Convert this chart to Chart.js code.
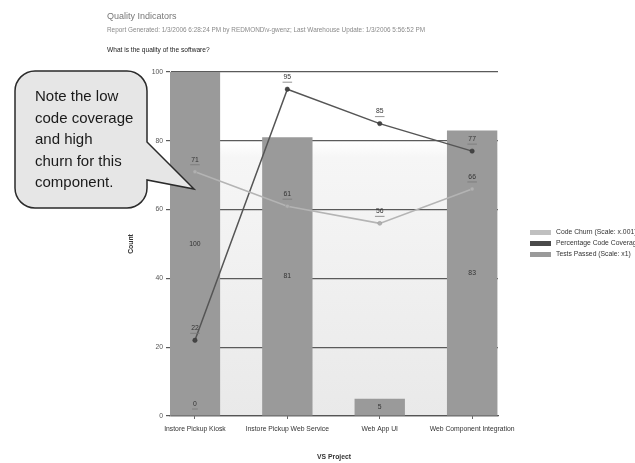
<!DOCTYPE html>
<html>
<head>
<meta charset="utf-8">
<title>Quality Indicators</title>
<script src="https://cdn.jsdelivr.net/npm/chart.js@4.4.0/dist/chart.umd.min.js"></script>
<style>
  html, body { margin: 0; padding: 0; background: #fff; overflow: hidden; }
  #wrap { position: relative; width: 635px; height: 463px; }
  #chart { position: absolute; left: 0; top: 0; }
  .hdr { position: absolute; left: 107px; font-family: "Liberation Sans", Arial, sans-serif; white-space: nowrap; }
  #title { top: 11px; font-size: 9px; color: #777; }
  #report { top: 26px; font-size: 6.4px; color: #8a8a8a; }
  #question { top: 46px; font-size: 6.6px; color: #222; }
</style>
</head>
<body>
<div id="wrap">
  <canvas id="chart" width="635" height="463"></canvas>
  <div id="title" class="hdr">Quality Indicators</div>
  <div id="report" class="hdr">Report Generated: 1/3/2006 6:28:24 PM by REDMOND\v-gwenz; Last Warehouse Update: 1/3/2006 5:56:52 PM</div>
  <div id="question" class="hdr">What is the quality of the software?</div>
</div>
<script>
const projects = ['Instore Pickup Kiosk', 'Instore Pickup Web Service', 'Web App UI', 'Web Component Integration'];
const codeChurn = [71, 61, 56, 66];
const codeCoverage = [22, 95, 85, 77];
const testsPassed = [100, 81, 5, 83];
const baseMarks = [0, null, null, null];
const yTicks = [0, 20, 40, 60, 80, 100];
const seriesNames = ['Code Churn (Scale: x.001)', 'Percentage Code Coverage', 'Tests Passed (Scale: x1)'];
const calloutLines = ['Note the low', 'code coverage', 'and high', 'churn for this', 'component.'];

const FONT = '"Liberation Sans", Arial, sans-serif';

function toPoints(values) {
    return values.map((v, i) => ({ x: i, y: v }));
}

// light gradient behind the plot
const plotBackground = {
    id: 'plotBackground',
    beforeDraw(chart) {
        const { ctx, chartArea: a } = chart;
        const g = ctx.createLinearGradient(0, a.top, 0, a.bottom);
        g.addColorStop(0, '#ffffff');
        g.addColorStop(0.2, '#ffffff');
        g.addColorStop(0.25, '#f6f6f6');
        g.addColorStop(1, '#e9e9e9');
        ctx.save();
        ctx.fillStyle = g;
        ctx.fillRect(a.left, a.top, a.right - a.left, a.bottom - a.top);
        ctx.restore();
    }
};

// numbers on bars (centered) and above line points (underlined)
const valueLabels = {
    id: 'valueLabels',
    afterDatasetsDraw(chart) {
        const ctx = chart.ctx;
        ctx.save();
        ctx.font = '6.8px ' + FONT;
        ctx.fillStyle = '#333';
        ctx.textAlign = 'center';
        ctx.textBaseline = 'middle';
        chart.data.datasets.forEach((ds, di) => {
            const meta = chart.getDatasetMeta(di);
            meta.data.forEach((el, i) => {
                const v = ds.data[i].y;
                if (v === null) return;
                if (ds.type === 'bar') {
                    ctx.fillText(String(v), el.x, (el.y + el.base) / 2);
                } else {
                    const w = ctx.measureText(String(v)).width;
                    ctx.fillText(String(v), el.x, el.y - 12);
                    ctx.strokeStyle = '#777';
                    ctx.lineWidth = 0.8;
                    ctx.beginPath();
                    ctx.moveTo(el.x - w / 2 - 1, el.y - 7);
                    ctx.lineTo(el.x + w / 2 + 1, el.y - 7);
                    ctx.stroke();
                }
            });
        });
        ctx.restore();
    }
};

// legend at the right edge
const sideLegend = {
    id: 'sideLegend',
    afterDraw(chart) {
        const ctx = chart.ctx;
        ctx.save();
        ctx.font = '6.8px ' + FONT;
        ctx.textBaseline = 'middle';
        ctx.textAlign = 'left';
        seriesNames.forEach((name, i) => {
            const ds = chart.data.datasets[i];
            const y = 232.5 + i * 11;
            ctx.fillStyle = ds.legendColor;
            ctx.fillRect(530, y - 2.5, 21, 5);
            ctx.fillStyle = '#333';
            ctx.fillText(name, 556, y);
        });
        ctx.restore();
    }
};

// speech bubble pointing at the kiosk column
const callout = {
    id: 'callout',
    afterDraw(chart) {
        const ctx = chart.ctx;
        const l = 15, t = 71, r = 147, b = 208, rad = 20;
        const tip = { x: 194, y: 189 };
        ctx.save();
        ctx.beginPath();
        ctx.moveTo(l + rad, t);
        ctx.lineTo(r - rad, t);
        ctx.arcTo(r, t, r, t + rad, rad);
        ctx.lineTo(r, 142);
        ctx.lineTo(tip.x, tip.y);
        ctx.lineTo(r, 180);
        ctx.lineTo(r, b - rad);
        ctx.arcTo(r, b, r - rad, b, rad);
        ctx.lineTo(l + rad, b);
        ctx.arcTo(l, b, l, b - rad, rad);
        ctx.lineTo(l, t + rad);
        ctx.arcTo(l, t, l + rad, t, rad);
        ctx.closePath();
        ctx.fillStyle = '#e6e6e6';
        ctx.fill();
        ctx.strokeStyle = '#2a2a2a';
        ctx.lineWidth = 1.5;
        ctx.stroke();
        ctx.fillStyle = '#1a1a1a';
        ctx.font = '15px ' + FONT;
        ctx.textBaseline = 'middle';
        ctx.textAlign = 'left';
        calloutLines.forEach((line, i) => ctx.fillText(line, 35, 97 + i * 21.5));
        ctx.restore();
    }
};

new Chart(document.getElementById('chart'), {
    type: 'bar',
    data: {
        datasets: [
            {
                type: 'line',
                label: seriesNames[0],
                data: toPoints(codeChurn),
                borderColor: '#b4b4b4',
                borderWidth: 1.5,
                pointRadius: 2,
                pointBackgroundColor: '#b0b0b0',
                pointBorderColor: '#999',
                pointBorderWidth: 0.5,
                tension: 0,
                legendColor: '#c0c0c0'
            },
            {
                type: 'line',
                label: seriesNames[1],
                data: toPoints(codeCoverage),
                borderColor: '#555',
                borderWidth: 1.5,
                pointRadius: 2.2,
                pointBackgroundColor: '#444',
                pointBorderColor: '#333',
                pointBorderWidth: 0.5,
                tension: 0,
                legendColor: '#4a4a4a'
            },
            {
                type: 'bar',
                label: seriesNames[2],
                data: toPoints(testsPassed),
                backgroundColor: '#9a9a9a',
                categoryPercentage: 1,
                barPercentage: 0.545,
                legendColor: '#9a9a9a'
            },
            {
                type: 'line',
                label: '',
                data: toPoints(baseMarks),
                showLine: false,
                pointRadius: 0
            }
        ]
    },
    options: {
        responsive: false,
        animation: false,
        layout: { padding: { left: 120, right: 137, top: 72, bottom: 0 } },
        plugins: {
            legend: { display: false },
            tooltip: { enabled: false }
        },
        scales: {
            x: {
                type: 'linear',
                offset: false,
                min: -0.27,
                max: 3.28,
                afterBuildTicks: s => { s.ticks = projects.map((p, i) => ({ value: i })); },
                afterFit: s => { s.height = 47; },
                grid: { offset: false, drawOnChartArea: false, drawTicks: true, tickLength: 3, color: '#666' },
                border: { display: true, color: '#555', width: 1.2 },
                ticks: {
                    callback: v => projects[v],
                    autoSkip: false,
                    maxRotation: 0,
                    font: { family: FONT, size: 6.8 },
                    color: '#333',
                    padding: 6
                },
                title: {
                    display: true,
                    text: 'VS Project',
                    font: { family: FONT, size: 6.8, weight: 'bold' },
                    color: '#333',
                    padding: { top: 0, bottom: 2 }
                }
            },
            y: {
                min: 0,
                max: 100,
                afterBuildTicks: s => { s.ticks = yTicks.map(v => ({ value: v })); },
                afterFit: s => { s.width = 50; },
                grid: { color: '#5a5a5a', lineWidth: 1.2, drawTicks: true, tickLength: 4 },
                border: { display: true, color: '#777', width: 1 },
                ticks: { font: { family: FONT, size: 6.8 }, color: '#555', padding: 3 },
                title: {
                    display: true,
                    text: 'Count',
                    font: { family: FONT, size: 6.8, weight: 'bold' },
                    color: '#333',
                    padding: { top: 7, bottom: 0 }
                }
            }
        }
    },
    plugins: [plotBackground, valueLabels, sideLegend, callout]
});
</script>
</body>
</html>
